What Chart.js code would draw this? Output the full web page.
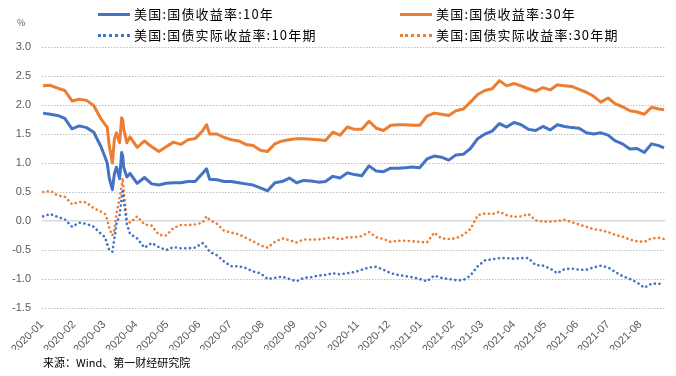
<!DOCTYPE html>
<html lang="zh-CN">
<head>
<meta charset="UTF-8">
<title>美国国债收益率</title>
<script src="https://cdn.jsdelivr.net/npm/chart.js@4"></script>
<style>
  html, body { margin: 0; padding: 0; background: #fff; }
  body { width: 676px; height: 376px; position: relative; overflow: hidden;
         font-family: "Noto Sans CJK SC", "Liberation Sans", sans-serif; color: #000; }
  #chart { position: absolute; left: 0; top: 0; }
  .legend { position: absolute; display: flex; align-items: center; font-size: 13px; line-height: 16px;
            letter-spacing: 1.2px; white-space: nowrap; }
  .legend .swatch { width: 32px; height: 0; margin-right: 4px; }
  .unit { position: absolute; left: 17px; top: 16px; font-size: 9px; color: #595959; }
  .source { position: absolute; left: 43px; top: 354px; font-size: 11px; }
</style>
</head>
<body>

<canvas id="chart" width="676" height="376"></canvas>

<div class="legend" style="left:98px; top:6px;"><span class="swatch" style="border-top:3px solid #4472C4"></span>美国:国债收益率:10年</div>
<div class="legend" style="left:400px; top:6px;"><span class="swatch" style="border-top:3px solid #ED7D31"></span>美国:国债收益率:30年</div>
<div class="legend" style="left:98px; top:27px;"><span class="swatch" style="border-top:3px dotted #4472C4"></span>美国:国债实际收益率:10年期</div>
<div class="legend" style="left:400px; top:27px;"><span class="swatch" style="border-top:3px dotted #ED7D31"></span>美国:国债实际收益率:30年期</div>
<div class="unit">%</div>
<div class="source">来源：Wind、第一财经研究院</div>

<script>
// ---------- data ----------
const dates = [
  '2020-01-02','2020-01-09','2020-01-16','2020-01-23','2020-01-30',
  '2020-02-06','2020-02-13','2020-02-20','2020-02-27',
  '2020-03-02','2020-03-04','2020-03-06','2020-03-09','2020-03-11','2020-03-13','2020-03-16','2020-03-18','2020-03-19','2020-03-20','2020-03-23','2020-03-26',
  '2020-04-02','2020-04-09','2020-04-16','2020-04-23','2020-04-30',
  '2020-05-07','2020-05-14','2020-05-21','2020-05-28',
  '2020-06-04','2020-06-08','2020-06-11','2020-06-18','2020-06-25',
  '2020-07-02','2020-07-09','2020-07-16','2020-07-23','2020-07-30',
  '2020-08-06','2020-08-13','2020-08-20','2020-08-27',
  '2020-09-03','2020-09-10','2020-09-17','2020-09-24',
  '2020-10-01','2020-10-08','2020-10-15','2020-10-22','2020-10-29',
  '2020-11-05','2020-11-12','2020-11-19','2020-11-26',
  '2020-12-03','2020-12-10','2020-12-17','2020-12-24','2020-12-31',
  '2021-01-07','2021-01-14','2021-01-21','2021-01-28',
  '2021-02-04','2021-02-11','2021-02-18','2021-02-25',
  '2021-03-04','2021-03-11','2021-03-18','2021-03-25',
  '2021-04-01','2021-04-08','2021-04-15','2021-04-22','2021-04-29',
  '2021-05-06','2021-05-13','2021-05-20','2021-05-27',
  '2021-06-03','2021-06-10','2021-06-17','2021-06-24',
  '2021-07-01','2021-07-08','2021-07-15','2021-07-22','2021-07-29',
  '2021-08-05','2021-08-12','2021-08-19','2021-08-24'
];

const nominal10 = [
  1.86, 1.84, 1.82, 1.77, 1.59,
  1.64, 1.61, 1.53, 1.28,
  1.10, 1.00, 0.74, 0.54, 0.82, 0.93, 0.73, 1.18, 1.12, 0.92, 0.76, 0.82,
  0.65, 0.75, 0.64, 0.62, 0.65,
  0.66, 0.66, 0.68, 0.68,
  0.82, 0.90, 0.72, 0.71, 0.68,
  0.68, 0.66, 0.64, 0.62, 0.57,
  0.52, 0.66, 0.68, 0.74,
  0.66, 0.70, 0.69, 0.67,
  0.68, 0.77, 0.74, 0.83, 0.80,
  0.78, 0.95, 0.86, 0.85,
  0.91, 0.91, 0.92, 0.93, 0.92,
  1.07, 1.12, 1.10, 1.05,
  1.14, 1.15, 1.25, 1.42,
  1.50, 1.55, 1.68, 1.62,
  1.70, 1.66, 1.58, 1.56, 1.63,
  1.57, 1.66, 1.63, 1.61,
  1.60, 1.52, 1.50, 1.52,
  1.48, 1.38, 1.33, 1.24, 1.25,
  1.18, 1.33, 1.30, 1.26
];

const nominal30 = [
  2.33, 2.34, 2.29, 2.25, 2.07,
  2.10, 2.08, 1.99, 1.76,
  1.66, 1.62, 1.30, 1.00, 1.42, 1.52, 1.35, 1.78, 1.74, 1.58, 1.35, 1.45,
  1.27, 1.38, 1.28, 1.20, 1.28,
  1.36, 1.32, 1.40, 1.42,
  1.55, 1.66, 1.50, 1.50, 1.44,
  1.40, 1.38, 1.32, 1.30, 1.22,
  1.20, 1.33, 1.38, 1.40,
  1.42, 1.42, 1.41, 1.40,
  1.39, 1.53, 1.48, 1.62, 1.58,
  1.58, 1.72, 1.60, 1.56,
  1.65, 1.66, 1.66, 1.65, 1.65,
  1.81, 1.86, 1.84, 1.82,
  1.90, 1.93, 2.05, 2.18,
  2.25, 2.28, 2.42, 2.33,
  2.37, 2.33, 2.28, 2.24, 2.30,
  2.26, 2.35, 2.33, 2.32,
  2.27, 2.22, 2.15, 2.05,
  2.12, 2.02, 1.97, 1.90, 1.88,
  1.84, 1.96, 1.93, 1.92
];

const real10 = [
  0.08, 0.12, 0.07, 0.03, -0.10,
  -0.03, -0.05, -0.10, -0.22,
  -0.28, -0.40, -0.50, -0.53, -0.30, -0.05, 0.10, 0.40, 0.55, 0.35, -0.05, -0.22,
  -0.30, -0.46, -0.38, -0.45, -0.50,
  -0.45, -0.47, -0.47, -0.46,
  -0.38, -0.45, -0.53, -0.59, -0.70,
  -0.78, -0.78, -0.81, -0.87, -0.90,
  -1.00, -0.98, -0.96, -1.00,
  -1.04, -0.98, -0.97, -0.94,
  -0.93, -0.90, -0.92, -0.90, -0.88,
  -0.84, -0.80, -0.79, -0.84,
  -0.90, -0.93, -0.95, -0.97, -1.00,
  -1.04, -0.94, -0.98, -1.00,
  -1.02, -1.02, -0.94, -0.78,
  -0.68, -0.66, -0.64, -0.64,
  -0.65, -0.64, -0.64, -0.76, -0.77,
  -0.82, -0.90, -0.83, -0.82,
  -0.84, -0.84, -0.80, -0.77,
  -0.80, -0.88, -0.95, -1.00, -1.06,
  -1.15, -1.08, -1.08, -1.10
];

const real30 = [
  0.50, 0.52, 0.44, 0.42, 0.29,
  0.33, 0.32, 0.22, 0.16,
  0.12, 0.03, -0.12, -0.25, -0.15, 0.13, 0.40, 0.62, 0.74, 0.50, 0.03, -0.03,
  0.08, -0.06, -0.08, -0.24, -0.25,
  -0.12, -0.07, -0.07, -0.06,
  -0.03, 0.08, 0.02, -0.05, -0.17,
  -0.20, -0.23, -0.29, -0.35, -0.42,
  -0.46, -0.36, -0.30, -0.33,
  -0.37, -0.32, -0.32, -0.32,
  -0.30, -0.28, -0.32, -0.28, -0.28,
  -0.26, -0.19, -0.28, -0.31,
  -0.36, -0.34, -0.34, -0.35, -0.36,
  -0.37, -0.20, -0.30, -0.31,
  -0.30, -0.24, -0.14, 0.10,
  0.13, 0.12, 0.16, 0.10,
  0.07, 0.08, 0.12, 0.01, -0.01,
  -0.01, 0.00, 0.02, -0.02,
  -0.06, -0.10, -0.14, -0.16,
  -0.19, -0.24, -0.27, -0.32, -0.35,
  -0.36, -0.30, -0.29, -0.31
];

const monthLabels = [
  '2020-01','2020-02','2020-03','2020-04','2020-05','2020-06','2020-07','2020-08','2020-09','2020-10',
  '2020-11','2020-12','2021-01','2021-02','2021-03','2021-04','2021-05','2021-06','2021-07','2021-08'
];

// ---------- helpers ----------
const dayOf = s => (Date.UTC(+s.slice(0, 4), +s.slice(5, 7) - 1, +s.slice(8, 10)) - Date.UTC(2020, 0, 1)) / 86400000;
const xs = dates.map(dayOf);
const monthStarts = monthLabels.map(m => dayOf(m + '-01'));

const BLUE = '#4472C4';
const ORANGE = '#ED7D31';

const series = (label, vals, color, dotted) => ({
  label,
  data: xs.map((x, i) => ({ x, y: vals[i] })),
  borderColor: color,
  backgroundColor: color,
  borderWidth: dotted ? 2.6 : 3,
  borderDash: dotted ? [0.1, 4.6] : [],
  borderCapStyle: dotted ? 'round' : 'butt',
  borderJoinStyle: 'round',
  pointRadius: 0,
  tension: 0,
  fill: false
});

new Chart(document.getElementById('chart'), {
  type: 'line',
  data: {
    datasets: [
      series('美国:国债实际收益率:10年期', real10, BLUE, true),
      series('美国:国债实际收益率:30年期', real30, ORANGE, true),
      series('美国:国债收益率:10年', nominal10, BLUE, false),
      series('美国:国债收益率:30年', nominal30, ORANGE, false)
    ]
  },
  options: {
    responsive: false,
    animation: false,
    layout: { padding: { top: 47, right: 11, bottom: 26, left: 0 } },
    plugins: { legend: { display: false }, tooltip: { enabled: false } },
    scales: {
      x: {
        type: 'linear',
        min: 0,
        max: dayOf('2021-08-25'),
        grid: { display: false },
        border: { display: false },
        afterBuildTicks: ax => { ax.ticks = monthStarts.map(v => ({ value: v })); },
        afterFit: ax => { ax.height = 42; },
        ticks: {
          autoSkip: false,
          maxRotation: 45,
          minRotation: 45,
          padding: 2,
          color: '#595959',
          font: { family: '"Liberation Sans", sans-serif', size: 11 },
          callback: v => monthLabels[monthStarts.indexOf(v)]
        }
      },
      y: {
        min: -1.5,
        max: 3.0,
        afterFit: ax => { ax.width = 42; },
        grid: {
          drawTicks: false,
          color: ctx => ctx.tick && ctx.tick.value === 0 ? '#d9d9d9' : '#bfbfbf',
          lineWidth: ctx => ctx.tick && ctx.tick.value === 0 ? 1.5 : 1
        },
        border: {
          display: false,
          dash: ctx => ctx.tick && ctx.tick.value === 0 ? [] : [1.5, 1.5]
        },
        ticks: {
          stepSize: 0.5,
          padding: 11,
          color: '#595959',
          font: { family: '"Liberation Sans", sans-serif', size: 11 },
          callback: v => v.toFixed(1)
        }
      }
    }
  }
});
</script>
</body>
</html>
